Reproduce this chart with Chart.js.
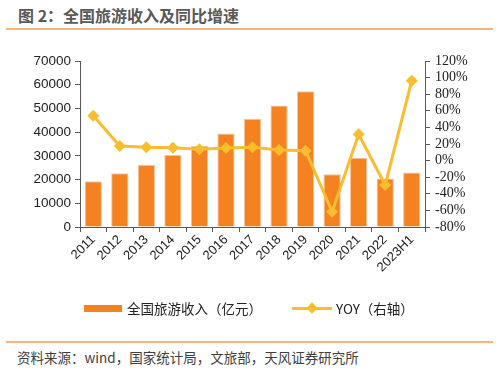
<!DOCTYPE html>
<html>
<head>
<meta charset="utf-8">
<script src="https://cdn.jsdelivr.net/npm/chart.js@4/dist/chart.umd.min.js"></script>
<style>
  html, body { margin: 0; padding: 0; background: #fff; }
  body { width: 499px; height: 371px; position: relative; overflow: hidden;
         font-family: "Noto Sans CJK SC", "Liberation Sans", sans-serif; }
  #wrap { position: absolute; left: 0; top: 0; width: 499px; height: 300px; }
  .title { position: absolute; left: 18px; top: 3px; font-size: 16px; font-weight: bold; color: #595959; white-space: nowrap; }
  .rule { position: absolute; left: 6px; width: 487px; height: 2px; background: #F9B47C; }
  .src { position: absolute; left: 17px; top: 347px; font-size: 13.5px; color: #404040; white-space: nowrap; }
  .legend { position: absolute; top: 298px; font-size: 13.5px; color: #222; white-space: nowrap; display: flex; align-items: center; }
</style>
</head>
<body>
<div class="title">图 2：全国旅游收入及同比增速</div>
<div class="rule" style="top:28px"></div>
<div id="wrap"><canvas id="chart"></canvas></div>
<div class="legend" style="left:84px">
  <span style="display:inline-block;width:38px;height:7px;background:#F58220;margin-right:5px"></span>全国旅游收入（亿元）
</div>
<div class="legend" style="left:292px">
  <span style="display:inline-block;position:relative;width:40px;height:12px;margin-right:4px">
    <span style="position:absolute;left:0;top:5px;width:40px;height:3px;background:#FBBC2E"></span>
    <span style="position:absolute;left:16px;top:2px;width:8px;height:8px;background:#FBBC2E;transform:rotate(45deg)"></span>
  </span>YOY（右轴）
</div>
<div class="rule" style="top:341px"></div>
<div class="src">资料来源：wind，国家统计局，文旅部，天风证券研究所</div>

<script>
// 数据
const years = ['2011', '2012', '2013', '2014', '2015', '2016', '2017', '2018', '2019', '2020', '2021', '2022', '2023H1'];
const revenue = [19305, 22706, 26276, 30312, 34195, 39390, 45661, 51278, 57251, 22286, 29191, 20444, 23000];
const yoy = [54, 17.6, 16, 15.5, 13.6, 15.2, 16, 12.8, 11.9, -61.6, 31.7, -29.4, 96.3];

const axisColor = '#595959';
const pctFmt = (v) => v + '%';
const plainFmt = (v) => String(v);

function initChart() {
  const canvas = document.getElementById('chart');

  const data = {
    labels: years,
    datasets: [
      {
        type: 'line',
        label: 'YOY（右轴）',
        data: yoy,
        yAxisID: 'y1',
        borderColor: '#FBBC2E',
        backgroundColor: '#FBBC2E',
        borderWidth: 3,
        pointStyle: 'rectRot',
        pointRadius: 6,
        pointBorderWidth: 0,
        tension: 0,
        order: 0,
      },
      {
        type: 'bar',
        label: '全国旅游收入（亿元）',
        data: revenue,
        yAxisID: 'y',
        backgroundColor: '#F58220',
        borderColor: '#FAC49A',
        borderWidth: 1,
        barPercentage: 0.65,
        categoryPercentage: 1,
        order: 1,
      },
    ],
  };

  const options = {
    responsive: true,
    maintainAspectRatio: false,
    animation: false,
    layout: { padding: { top: 61, left: 0, right: 0, bottom: 0 } },
    plugins: { legend: { display: false }, tooltip: { enabled: false } },
    scales: {
      x: {
        grid: { display: true, drawOnChartArea: false, offset: true, tickLength: 5, color: axisColor },
        border: { display: true, color: axisColor, width: 1 },
        ticks: {
          maxRotation: 45, minRotation: 45, autoSkip: false, padding: 0,
          color: '#222', font: { family: 'Liberation Sans', size: 13 },
        },
        afterFit: (s) => { s.height = 300 - 227; },
      },
      y: {
        position: 'left',
        min: 0, max: 70000,
        ticks: { stepSize: 10000, autoSkip: false, callback: plainFmt, color: '#222', padding: 4, font: { family: 'Liberation Sans', size: 13.5 } },
        grid: { drawOnChartArea: false, tickLength: 5, color: axisColor },
        border: { display: true, color: axisColor, width: 1 },
        afterFit: (s) => { s.width = 80; },
      },
      y1: {
        position: 'right',
        min: -80, max: 120,
        ticks: { stepSize: 20, autoSkip: false, callback: pctFmt, color: '#222', padding: 5, font: { family: '"Liberation Serif", "Times New Roman", serif', size: 14 } },
        grid: { drawOnChartArea: false, tickLength: 5, color: axisColor },
        border: { display: true, color: axisColor, width: 1 },
        afterFit: (s) => { s.width = 499 - 425; },
      },
    },
  };

  new Chart(canvas, { type: 'bar', data, options });
}

document.addEventListener('DOMContentLoaded', initChart);
</script>
</body>
</html>
